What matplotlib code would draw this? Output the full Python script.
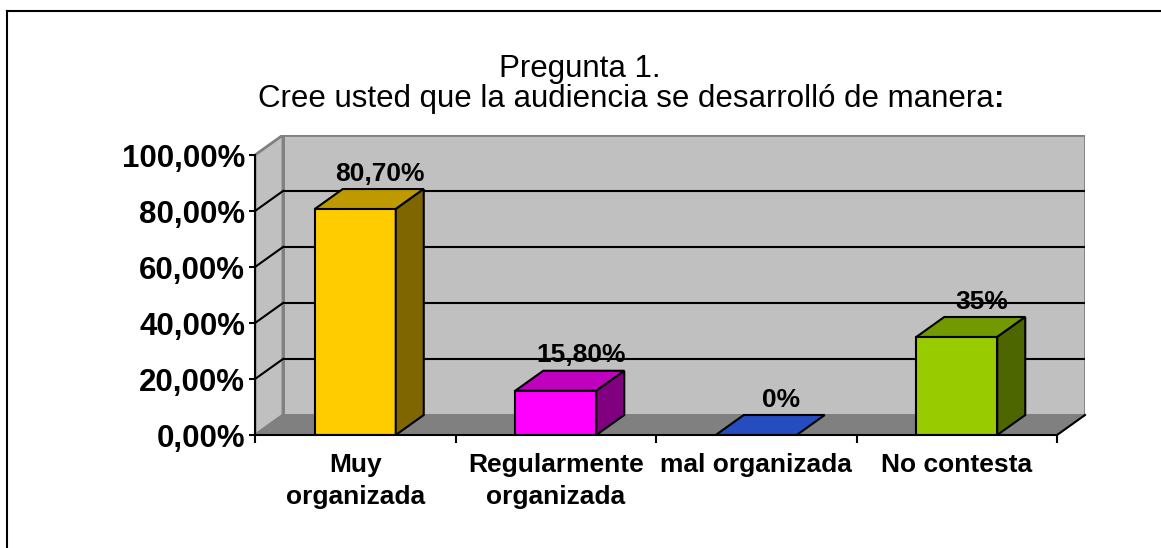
import matplotlib
matplotlib.use("Agg")
import matplotlib.pyplot as plt
from matplotlib.patches import Polygon, Rectangle
from matplotlib.lines import Line2D
import numpy as np

plt.rcParams['font.family'] = ['Liberation Sans', 'DejaVu Sans']

# datos
categorias = ["Muy\norganizada", "Regularmente\norganizada", "mal organizada", "No contesta"]
valores = [80.7, 15.8, 0.0, 35.0]
etiquetas = ["80,70%", "15,80%", "0%", "35%"]
colores = ["#FFCC00", "#FF00FF", "#3366FF", "#99CC00"]
yticks = [0, 20, 40, 60, 80, 100]
ytick_labels = ["0,00%", "20,00%", "40,00%", "60,00%", "80,00%", "100,00%"]

W, H = 1161, 548
fig = plt.figure(figsize=(W / 100, H / 100), dpi=100)

# profundidad del efecto 3D (en unidades de datos)
ddx = 28 / 200.5
ddy = 20 / 2.8
ancho = 0.404

ax = fig.add_axes([255 / W, (H - 435) / H, (1085 - 255) / W, (435 - 135) / H])
ax.set_xlim(0, len(categorias) + ddx)
ax.set_ylim(0, 100 + ddy)
ax.patch.set_visible(False)

n = len(categorias)
gris = "#C0C0C0"
gris_osc = "#808080"

# paredes y piso
ax.add_patch(Rectangle((ddx, ddy), n, 100, facecolor=gris, edgecolor=gris_osc, lw=2, zorder=1))
ax.add_patch(Polygon([(0, 0), (ddx, ddy), (ddx, 100 + ddy), (0, 100)], closed=True,
                     facecolor=gris, edgecolor=gris_osc, lw=2, zorder=1))
ax.add_patch(Polygon([(0, 0), (n, 0), (n + ddx, ddy), (ddx, ddy)], closed=True,
                     facecolor=gris_osc, edgecolor=gris_osc, lw=1, zorder=1))
ax.plot([n, n + ddx], [0, ddy], color="black", lw=1.5, zorder=2, clip_on=False)

# lineas de division
for v in yticks[1:-1]:
    ax.plot([ddx, n + ddx], [v + ddy, v + ddy], color="black", lw=1.5, zorder=2)
    ax.plot([0, ddx], [v, v + ddy], color="black", lw=1.5, zorder=2)

# barras 3D
def oscuro(c, f):
    r, g, b = matplotlib.colors.to_rgb(c)
    return (r * f, g * f, b * f)

for i, (v, c) in enumerate(zip(valores, colores)):
    x0 = i + 0.5 - ancho / 2
    top = [(x0, v), (x0 + ancho, v), (x0 + ancho + ddx, v + ddy), (x0 + ddx, v + ddy)]
    ax.add_patch(Polygon(top, closed=True, facecolor=oscuro(c, 0.75), edgecolor="black", lw=1.5, zorder=4))
    if v > 0:
        ax.add_patch(Rectangle((x0, 0), ancho, v, facecolor=c, edgecolor="black", lw=1.5, zorder=4))
        side = [(x0 + ancho, 0), (x0 + ancho + ddx, ddy), (x0 + ancho + ddx, v + ddy), (x0 + ancho, v)]
        ax.add_patch(Polygon(side, closed=True, facecolor=oscuro(c, 0.5), edgecolor="black", lw=1.5, zorder=4))
    ax.annotate(etiquetas[i], xy=(i + 0.5 + ddx / 2, v + ddy), xytext=(8, 11), textcoords="offset points",
                ha="center", va="center", fontsize=19, fontweight="bold", zorder=6)

# ejes frontales
for s in ["top", "right"]:
    ax.spines[s].set_visible(False)
ax.spines["left"].set_bounds(0, 100)
ax.spines["bottom"].set_bounds(0, n)
ax.spines["left"].set_linewidth(1.5)
ax.spines["bottom"].set_linewidth(1.5)
ax.spines["left"].set_zorder(5)
ax.spines["bottom"].set_zorder(5)

ax.set_yticks(yticks)
ax.set_yticklabels(ytick_labels, fontsize=22.5, fontweight="bold")
ax.tick_params(axis="y", length=4, width=1.5, pad=3)

ax.set_xticks(np.arange(n + 1))
ax.set_xticklabels([])
ax.tick_params(axis="x", which="major", length=6, width=1.5)
ax.set_xticks(np.arange(n) + 0.5, minor=True)
ax.set_xticklabels(categorias, minor=True, fontsize=19, fontweight="bold", linespacing=1.4)
ax.tick_params(axis="x", which="minor", length=0, pad=13)

# titulo
fig.text(580 / W, 1 - 77 / H, "Pregunta 1.", ha="center", va="baseline", fontsize=22.5)
t2 = fig.text(258 / W, 1 - 107 / H, "Cree usted que la audiencia se desarrolló de manera",
              ha="left", va="baseline", fontsize=22.5)
ax.annotate(":", xy=(1, 0), xycoords=t2, ha="left", va="bottom", fontsize=22.5, fontweight="bold")

# borde exterior
fig.add_artist(Line2D([6.5 / W, 6.5 / W], [0, 1 - 11 / H], color="black", lw=1.5, transform=fig.transFigure))
fig.add_artist(Line2D([6.5 / W, 1], [1 - 11 / H, 1 - 11 / H], color="black", lw=1.5, transform=fig.transFigure))

fig.savefig("out.png", dpi=100)
